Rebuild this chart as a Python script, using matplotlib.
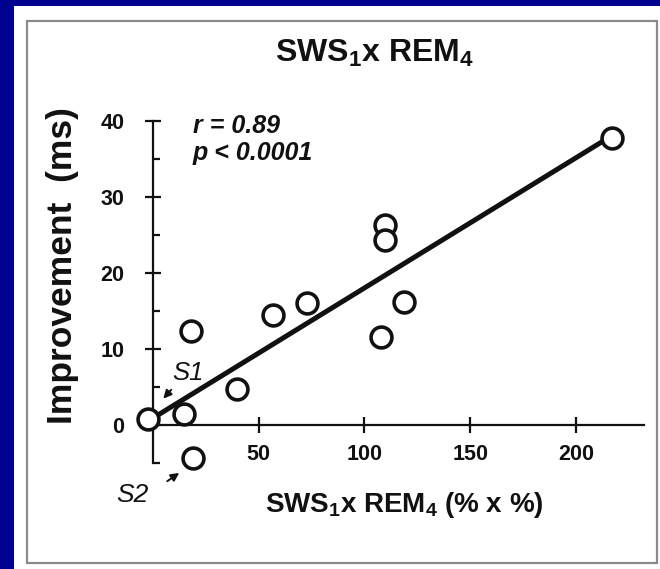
import numpy as np
import matplotlib
matplotlib.use('Agg')
import matplotlib.pyplot as plt
from matplotlib.patches import Rectangle

# ===============================================================
# data
# ===============================================================
sws_rem = np.array([-2.5, 14.7, 19.0, 18.0, 39.7, 56.7, 73.0, 109.7, 109.7, 118.7, 107.8, 217.0])
improvement = np.array([0.8, 1.4, -4.3, 12.4, 4.7, 14.5, 16.0, 26.3, 24.4, 16.2, 11.6, 37.8])

x_ticks = [50, 100, 150, 200]
y_ticks = [0, 10, 20, 30, 40]
y_minor = [-5, 5, 15, 25, 35]

title = 'SWS$_1$x REM$_4$'
xlabel = 'SWS$_1$x REM$_4$ (% x %)'
ylabel = 'Improvement  (ms)'
stats = ['r = 0.89', 'p < 0.0001']

# ===============================================================
# plot settings
# ===============================================================
plt.rcParams['font.family'] = ['Liberation Sans', 'DejaVu Sans']
plt.rcParams['mathtext.fontset'] = 'custom'
plt.rcParams['mathtext.rm'] = 'Liberation Sans:bold'
plt.rcParams['mathtext.it'] = 'Liberation Sans:bold:italic'
plt.rcParams['mathtext.bf'] = 'Liberation Sans:bold'

navy = '#000090'
ink = '#111111'
lw_axis = 1.6

fig = plt.figure(figsize=(6.6, 5.69), dpi=100, facecolor=navy)

# white slide panel + grey frame
fig.patches.append(Rectangle((14/660, 0), 1 - 14/660, 1 - 6/569, transform=fig.transFigure,
                             facecolor='white', edgecolor='none', zorder=-2))
fig.patches.append(Rectangle((27/660, 6/569), (657 - 27)/660, (563 - 21)/569, transform=fig.transFigure,
                             facecolor='none', edgecolor='#8a8a8a', lw=1.6, zorder=-1))

ax = fig.add_axes([0.1965, 0.1663, 0.7883, 0.6411])
ax.set_zorder(5)
ax.set_facecolor('none')
ax.set_xlim(-11, 235)
ax.set_ylim(-6.5, 41.5)

# regression line
slope, icpt = np.polyfit(sws_rem, improvement, 1)
xf = np.array([0, sws_rem.max()])
ax.plot(xf, icpt + slope*xf, color=ink, lw=3.6, solid_capstyle='butt', zorder=2)

# open circles
ax.plot(sws_rem, improvement, 'o', ms=15, mfc='white', mec=ink, mew=2.6, zorder=3, clip_on=False)

# spines crossing at the origin
for s in ['top', 'right']:
    ax.spines[s].set_visible(False)
ax.spines['left'].set_position(('data', 0))
ax.spines['bottom'].set_position(('data', 0))
ax.spines['left'].set_bounds(-5, 40)
ax.spines['bottom'].set_bounds(-1, 232)
for s in ['left', 'bottom']:
    ax.spines[s].set_linewidth(lw_axis)
    ax.spines[s].set_color(ink)

ax.set_xticks(x_ticks)
ax.set_yticks(y_ticks)
ax.set_yticks(y_minor, minor=True)
ax.tick_params(axis='y', which='major', direction='inout', length=11, width=lw_axis,
               color=ink, pad=15, labelsize=15.5, labelcolor=ink)
ax.tick_params(axis='y', which='minor', direction='in', length=5, width=lw_axis, color=ink)
ax.tick_params(axis='x', which='major', direction='inout', length=12, width=lw_axis,
               color=ink, pad=8, labelsize=15.5, labelcolor=ink)
for lab in ax.get_xticklabels() + ax.get_yticklabels():
    lab.set_fontweight('bold')

# stats text
ax.text(18.9, 38.4, stats[0], fontsize=18, fontweight='bold', style='italic', color=ink)
ax.text(18.9, 34.9, stats[1], fontsize=18, fontweight='bold', style='italic', color=ink)

# S1 / S2 labels with arrows
ax.text(9, 5.9, 'S1', fontsize=18.5, style='italic', color=ink)
ax.annotate('', xy=(4.0, 3.2), xytext=(9.5, 4.9), annotation_clip=False,
            arrowprops=dict(arrowstyle='-|>', color=ink, lw=1.4, mutation_scale=12))
ax.text(-17.5, -10.1, 'S2', fontsize=19, style='italic', color=ink, clip_on=False)
ax.annotate('', xy=(13.5, -6.1), xytext=(5.7, -7.6), annotation_clip=False,
            arrowprops=dict(arrowstyle='-|>', color=ink, lw=1.4, mutation_scale=12))

# titles and axis labels
fig.text(0.568, 1 - 62/569, title, fontsize=23, fontweight='bold', ha='center', va='baseline', color=ink)
fig.text(0.612, 1 - 512/569, xlabel, fontsize=20, fontweight='bold', ha='center', va='baseline', color=ink)
fig.text(0.094, 1 - 266/569, ylabel, fontsize=25.5, fontweight='bold', rotation=90,
         ha='center', va='center', color=ink)

fig.savefig('out.png', dpi=100, facecolor=navy)
